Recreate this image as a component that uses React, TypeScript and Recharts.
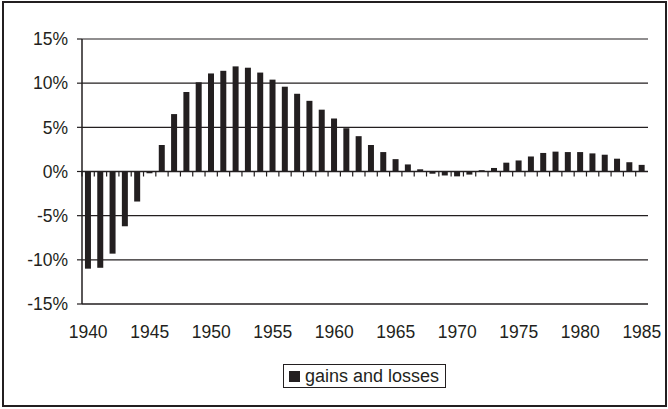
import { BarChart, Bar, XAxis, YAxis, CartesianGrid, ReferenceLine } from 'recharts';

const YEARS = [
  1940, 1941, 1942, 1943, 1944, 1945, 1946, 1947, 1948, 1949,
  1950, 1951, 1952, 1953, 1954, 1955, 1956, 1957, 1958, 1959,
  1960, 1961, 1962, 1963, 1964, 1965, 1966, 1967, 1968, 1969,
  1970, 1971, 1972, 1973, 1974, 1975, 1976, 1977, 1978, 1979,
  1980, 1981, 1982, 1983, 1984, 1985,
];

// gains and losses, in percent
const GAINS = [
  -11.0, -10.9, -9.3, -6.2, -3.4, -0.2, 3.0, 6.5, 9.0, 10.1,
  11.1, 11.4, 11.9, 11.75, 11.2, 10.4, 9.6, 8.8, 8.0, 7.0,
  6.0, 4.9, 4.0, 3.0, 2.2, 1.4, 0.8, 0.25, -0.25, -0.45,
  -0.55, -0.35, 0.15, 0.4, 1.0, 1.25, 1.7, 2.1, 2.25, 2.2,
  2.2, 2.05, 1.9, 1.45, 1.05, 0.75,
];

const Y_TICKS = [-15, -10, -5, 0, 5, 10, 15];
const SERIES_NAME = 'gains and losses';

const FONT = '"Liberation Sans", Arial, sans-serif';
const INK = '#231f20';

const W = 668;
const H = 409;
const MARGIN = { top: 39, right: 20, bottom: 75, left: 0 };
const Y_WIDTH = 82;
const X_HEIGHT = 30;
const PLOT_W = W - Y_WIDTH - MARGIN.right;
const PLOT_H = H - MARGIN.top - MARGIN.bottom - X_HEIGHT;

const data = YEARS.map((year, i) => ({ year, value: GAINS[i] }));

// category labels every 5 years, plus small tick marks on the zero line between bars
function YearTick(props: any) {
  const { x, y, payload } = props;
  const step = PLOT_W / YEARS.length;
  const zeroY = y - PLOT_H / 2;
  const year = Number(payload.value);
  return (
    <g>
      <line x1={x - step / 2} x2={x - step / 2} y1={zeroY} y2={zeroY + 5} stroke={INK} strokeWidth={1.2} />
      {year % 5 === 0 && (
        <text x={x} y={y + 34} textAnchor="middle" fontSize={17.5} fontFamily={FONT} fill={INK}>
          {year}
        </text>
      )}
    </g>
  );
}

export default function App() {
  return (
    <div style={{ position: 'absolute', left: 0, top: 0, width: W, height: H, background: '#fff' }}>
      <BarChart width={W} height={H} data={data} margin={MARGIN} barCategoryGap="24%">
        <CartesianGrid vertical={false} stroke={INK} strokeWidth={1.2} yAxisId="left" />
        <XAxis
          dataKey="year"
          interval={0}
          height={X_HEIGHT}
          tickSize={0}
          tickMargin={0}
          tickLine={false}
          axisLine={{ stroke: INK, strokeWidth: 1.2 }}
          tick={<YearTick />}
        />
        <YAxis
          yAxisId="left"
          width={Y_WIDTH}
          domain={[-15, 15]}
          ticks={Y_TICKS}
          interval={0}
          tickFormatter={(v: number) => `${v}%`}
          tickSize={5}
          tickMargin={9}
          tickLine={{ stroke: INK, strokeWidth: 1.2 }}
          axisLine={{ stroke: INK, strokeWidth: 1.5 }}
          tick={{ fill: INK, fontSize: 17.5, fontFamily: FONT }}
        />
        <YAxis
          yAxisId="right"
          orientation="right"
          width={0}
          domain={[-15, 15]}
          tick={false}
          tickLine={false}
          axisLine={{ stroke: INK, strokeWidth: 1.5 }}
        />
        <ReferenceLine yAxisId="left" y={0} stroke={INK} strokeWidth={1.5} />
        <Bar yAxisId="left" dataKey="value" name={SERIES_NAME} fill={INK} isAnimationActive={false} />
      </BarChart>

      <div
        style={{
          position: 'absolute',
          left: 283,
          top: 364,
          width: 163,
          height: 24,
          boxSizing: 'border-box',
          border: `1.5px solid ${INK}`,
          display: 'flex',
          alignItems: 'center',
          fontFamily: FONT,
          fontSize: 18,
          color: INK,
          background: '#fff',
        }}
      >
        <span style={{ display: 'inline-block', width: 11, height: 11, background: INK, marginLeft: 5, marginRight: 5 }} />
        <span>{SERIES_NAME}</span>
      </div>

      <div
        style={{
          position: 'absolute',
          left: 2,
          top: 1,
          width: 665,
          height: 406,
          boxSizing: 'border-box',
          border: `2px solid ${INK}`,
          pointerEvents: 'none',
        }}
      />
    </div>
  );
}
